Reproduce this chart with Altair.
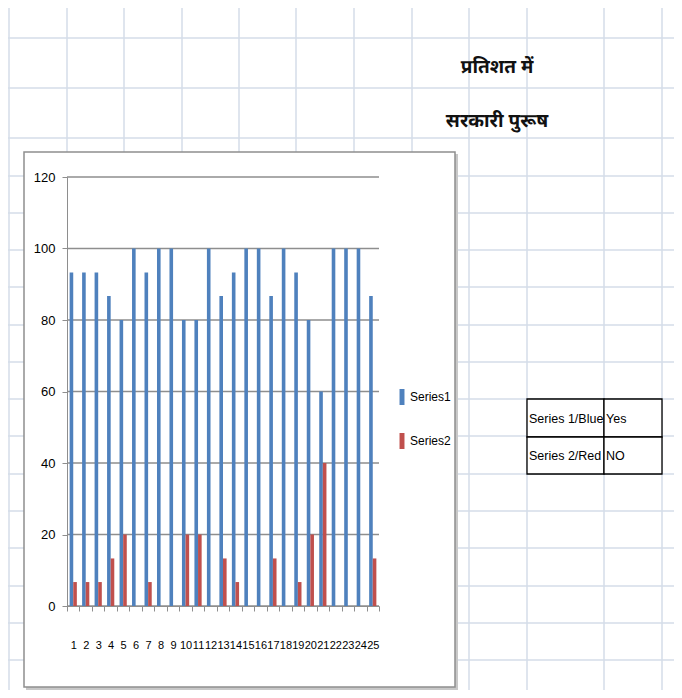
import altair as alt
import pandas as pd

# ---- data ----
categories = [str(i) for i in range(1, 26)]
series1 = [93.3, 93.3, 93.3, 86.7, 80, 100, 93.3, 100, 100, 80, 80, 100, 86.7,
           93.3, 100, 100, 86.7, 100, 93.3, 80, 60, 100, 100, 100, 86.7]
series2 = [6.7, 6.7, 6.7, 13.3, 20, 0, 6.7, 0, 0, 20, 20, 0, 13.3,
           6.7, 0, 0, 13.3, 0, 6.7, 20, 40, 0, 0, 0, 13.3]
series_names = ["Series1", "Series2"]
series_colors = ["#4F81BD", "#C0504D"]
y_ticks = [0, 20, 40, 60, 80, 100, 120]
title_lines = ["प्रतिशत में", "सरकारी पुरूष"]
table_rows = [["Series 1/Blue", "Yes"], ["Series 2/Red", "NO"]]

# ---- layout (pixels relative to plot area origin) ----
W, H = 312, 429
FONT = "Liberation Sans, Arial, sans-serif"
DEVA = "Noto Sans Devanagari, Lohit Devanagari, Mangal, FreeSans, sans-serif"
SHEET = "#D5DCE9"

sheet_cols = [-58, 0, 57, 115, 172, 229, 287, 345, 402, 460, 537, 595]
sheet_rows = [-139, -89, -39, -1, 36, 73, 110, 148, 185, 222, 259, 297,
              334, 371, 409, 446, 483, 520]

rows = []
for c, a, b in zip(categories, series1, series2):
    rows.append({"cat": c, "series": series_names[0], "value": a})
    rows.append({"cat": c, "series": series_names[1], "value": b})
df = pd.DataFrame(rows)

vlines = alt.Chart(pd.DataFrame({"px": sheet_cols})).mark_rule(
    color=SHEET, strokeWidth=1.5
).encode(x=alt.X("px:Q", scale=None), y=alt.value(-170), y2=alt.value(522))

hlines = alt.Chart(pd.DataFrame({"py": sheet_rows})).mark_rule(
    color=SHEET, strokeWidth=1.5
).encode(y=alt.Y("py:Q", scale=None), x=alt.value(-60), x2=alt.value(616))

frame_df = pd.DataFrame({"x": [-43], "x2": [388], "y": [-25], "y2": [510]})
shadow = alt.Chart(frame_df).mark_rect(fill="#c8c8c8").encode(
    x=alt.value(-41), x2=alt.value(391), y=alt.value(-23), y2=alt.value(513)
)
frame = alt.Chart(frame_df).mark_rect(
    fill="white", stroke="#8f8f8f", strokeWidth=1.5
).encode(
    x=alt.X("x:Q", scale=None), x2="x2:Q",
    y=alt.Y("y:Q", scale=None), y2="y2:Q"
)

title_df = pd.DataFrame({"t": title_lines, "px": [430, 430], "py": [-110, -56]})
title = alt.Chart(title_df).mark_text(
    font=DEVA, fontSize=19, fontWeight="bold", color="#111", align="center", baseline="middle"
).encode(x=alt.X("px:Q", scale=None), y=alt.Y("py:Q", scale=None), text="t:N")

cells = pd.DataFrame({
    "x": [460, 537, 460, 537], "x2": [537, 595, 537, 595],
    "y": [222, 222, 260, 260], "y2": [260, 260, 297, 297],
})
table_rect = alt.Chart(cells).mark_rect(
    fill="white", stroke="black", strokeWidth=1.3
).encode(x=alt.X("x:Q", scale=None), x2="x2:Q",
         y=alt.Y("y:Q", scale=None), y2="y2:Q")

tt = pd.DataFrame({
    "t": [table_rows[0][0], table_rows[0][1], table_rows[1][0], table_rows[1][1]],
    "px": [462, 539, 462, 539],
    "py": [242, 242, 279, 279],
})
table_text = alt.Chart(tt).mark_text(
    font=FONT, fontSize=12.5, color="black", align="left", baseline="middle"
).encode(x=alt.X("px:Q", scale=None), y=alt.Y("py:Q", scale=None), text="t:N")

y_axis = alt.Axis(title=None, values=y_ticks, grid=False,
                  domainColor="#8E8E8E", tickColor="#8E8E8E", tickSize=5,
                  labelFont=FONT, labelFontSize=13, labelColor="black",
                  labelPadding=7, zindex=1)
y_scale = alt.Scale(domain=[0, 120], nice=False)

ygrid = alt.Chart(pd.DataFrame({"value": y_ticks})).mark_rule(
    color="#8E8E8E", strokeWidth=1.5
).encode(
    y=alt.Y("value:Q", scale=y_scale, axis=y_axis),
    x=alt.value(0), x2=alt.value(W)
)

bars = alt.Chart(df).mark_bar().encode(
    x=alt.X("cat:N", sort=categories,
            scale=alt.Scale(paddingInner=0, paddingOuter=0),
            axis=alt.Axis(title=None, labelAngle=0, tickBand="extent",
                          domainColor="#8E8E8E", tickColor="#8E8E8E", tickSize=5,
                          labelFont=FONT, labelFontSize=11, labelColor="black",
                          labelPadding=28, grid=False, zindex=1)),
    xOffset=alt.XOffset("series:N", sort=series_names,
                        scale=alt.Scale(paddingInner=0, paddingOuter=0.73)),
    y=alt.Y("value:Q", scale=y_scale, axis=y_axis),
    color=alt.Color("series:N", sort=series_names,
                    scale=alt.Scale(domain=series_names, range=series_colors),
                    legend=alt.Legend(title=None, orient="none", legendX=327, legendY=212,
                                      symbolType="M-0.31,-1H0.31V1H-0.31Z",
                                      symbolSize=256, symbolStrokeWidth=0,
                                      labelFont=FONT, labelFontSize=12,
                                      labelColor="black", labelOffset=0,
                                      rowPadding=28, padding=0)),
)

chart = alt.layer(
    vlines, hlines, shadow, frame, title, table_rect, table_text, ygrid, bars
).properties(
    width=W, height=H,
    padding={"left": 59, "top": 169, "right": 295, "bottom": 84},
    autosize=alt.AutoSizeParams(type="none"),
    background="white",
).configure_view(strokeWidth=0)

chart.save("out.html", embed_options={"renderer": "svg", "actions": False})
